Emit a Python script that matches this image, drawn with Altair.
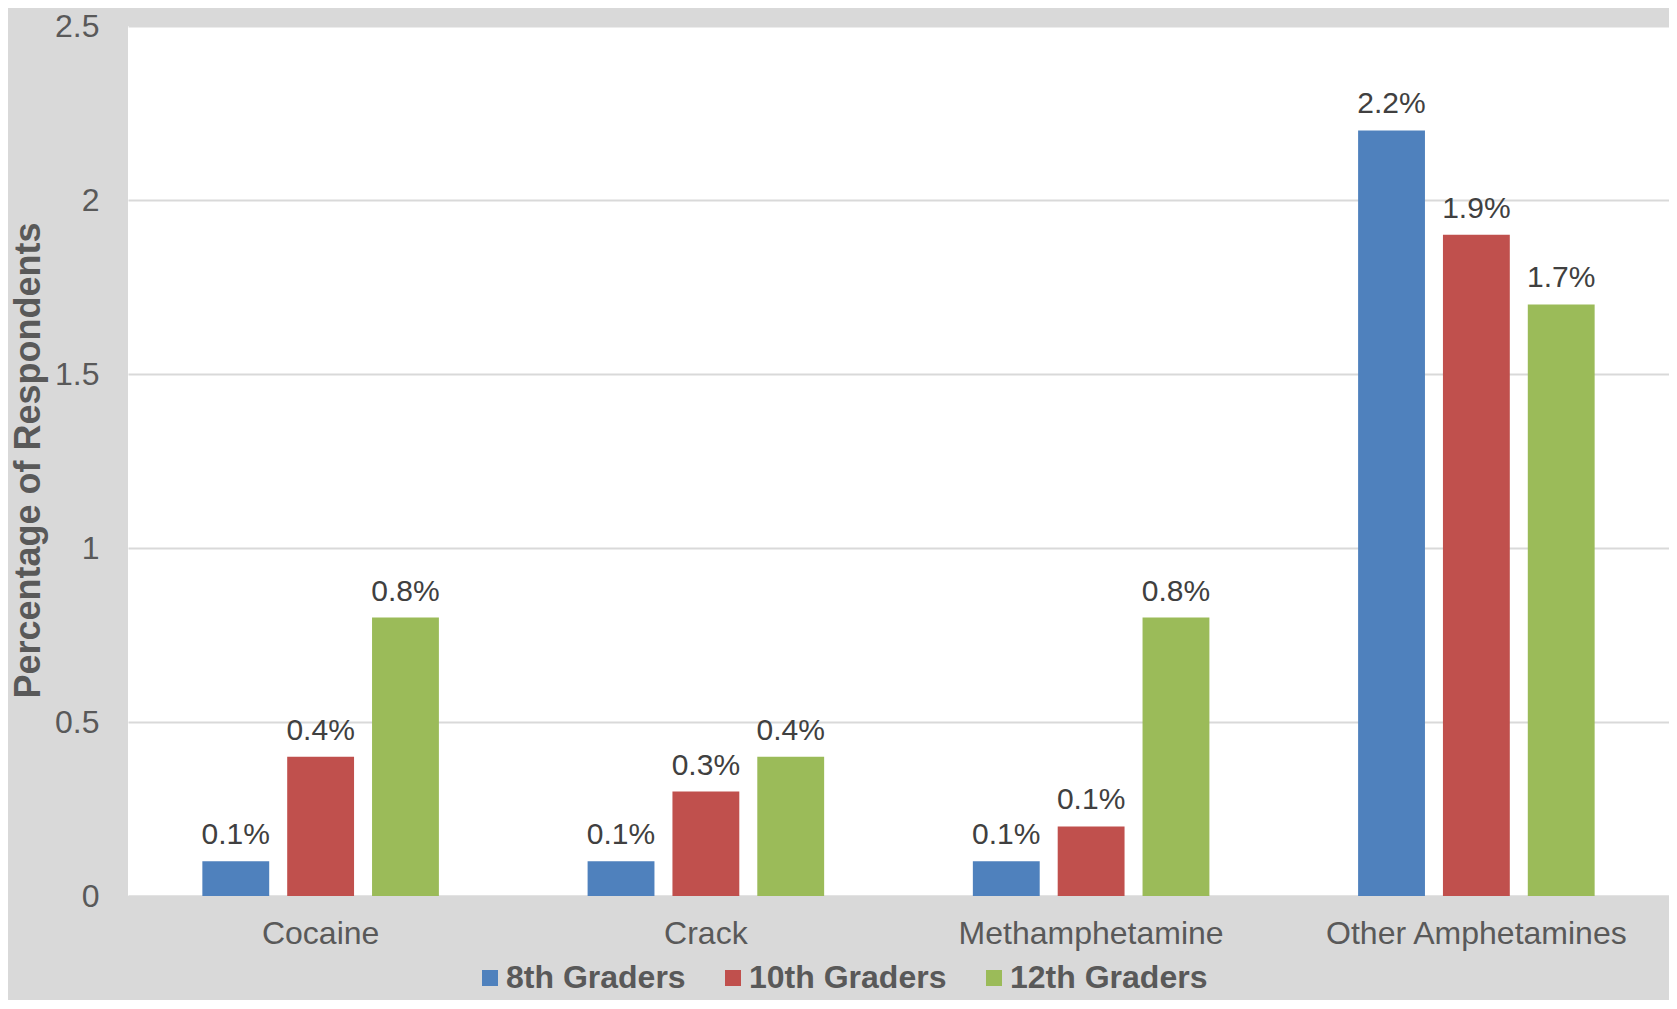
import altair as alt
import pandas as pd

categories = ["Cocaine", "Crack", "Methamphetamine", "Other Amphetamines"]
grades = ["8th Graders", "10th Graders", "12th Graders"]
grade8 = [0.1, 0.1, 0.1, 2.2]
grade10 = [0.4, 0.3, 0.2, 1.9]
grade12 = [0.8, 0.4, 0.8, 1.7]
labels8 = ["0.1%", "0.1%", "0.1%", "2.2%"]
labels10 = ["0.4%", "0.3%", "0.1%", "1.9%"]
labels12 = ["0.8%", "0.4%", "0.8%", "1.7%"]
colors = ["#4f81bd", "#c0504d", "#9bbb59"]
y_ticks = [0, 0.5, 1, 1.5, 2, 2.5]

rows = []
for g, vals, labs in zip(grades, [grade8, grade10, grade12], [labels8, labels10, labels12]):
    for c, v, l in zip(categories, vals, labs):
        rows.append({"category": c, "grade": g, "value": v, "label": l})
df = pd.DataFrame(rows)

FONT = "Liberation Sans, Arial, sans-serif"
GREY = "#595959"

x_enc = alt.X(
    "category:N",
    sort=categories,
    scale=alt.Scale(paddingInner=0.386, paddingOuter=0.193),
    axis=alt.Axis(
        title=None, labelAngle=0, ticks=False, labelPadding=22, labelLimit=0,
        labelFontSize=32, labelColor=GREY, labelFont=FONT,
        domainColor="#d9d9d9", domainWidth=2,
    ),
)
xoff_enc = alt.XOffset(
    "grade:N", sort=grades, scale=alt.Scale(paddingInner=0.212, paddingOuter=0)
)
y_enc = alt.Y(
    "value:Q",
    scale=alt.Scale(domain=[0, 2.5], nice=False),
    axis=alt.Axis(
        values=y_ticks, format=".1~f",
        title="Percentage of Respondents",
        titleFontSize=36, titleFontWeight="bold", titleColor=GREY, titleFont=FONT,
        titleAngle=270, titleBaseline="alphabetic", titleAlign="center",
        titleX=-89, titleY=434, titleLimit=0,
        labelFontSize=32, labelColor=GREY, labelFont=FONT, labelPadding=29,
        ticks=False, domain=False, gridColor="#d9d9d9", gridWidth=2,
    ),
)

bars = alt.Chart(df).mark_bar().encode(
    x=x_enc,
    xOffset=xoff_enc,
    y=y_enc,
    color=alt.Color(
        "grade:N", sort=grades,
        scale=alt.Scale(domain=grades, range=colors),
        legend=alt.Legend(
            title=None, orient="none", legendX=346, legendY=936,
            direction="horizontal", symbolType="square", symbolSize=256,
            symbolStrokeWidth=0, symbolOpacity=1,
            labelFontSize=32, labelFontWeight="bold", labelColor=GREY,
            labelFont=FONT, labelOffset=0, columnPadding=31, padding=0,
            labelLimit=0,
        ),
    ),
)

text = alt.Chart(df).mark_text(
    baseline="alphabetic", dy=-17, fontSize=30, color="#404040", font=FONT
).encode(
    x=alt.X("category:N", sort=categories),
    xOffset=alt.XOffset("grade:N", sort=grades),
    y=alt.Y("value:Q"),
    text="label:N",
)

chart = (
    alt.layer(bars, text)
    .properties(
        width=1541, height=870,
        autosize=alt.AutoSizeParams(type="none"),
        padding={"left": 120, "top": 18, "right": 0, "bottom": 104},
        background="#d9d9d9",
    )
    .configure_view(fill="white", strokeWidth=0)
)

chart.save("out.html", embed_options={"renderer": "svg", "actions": False})
